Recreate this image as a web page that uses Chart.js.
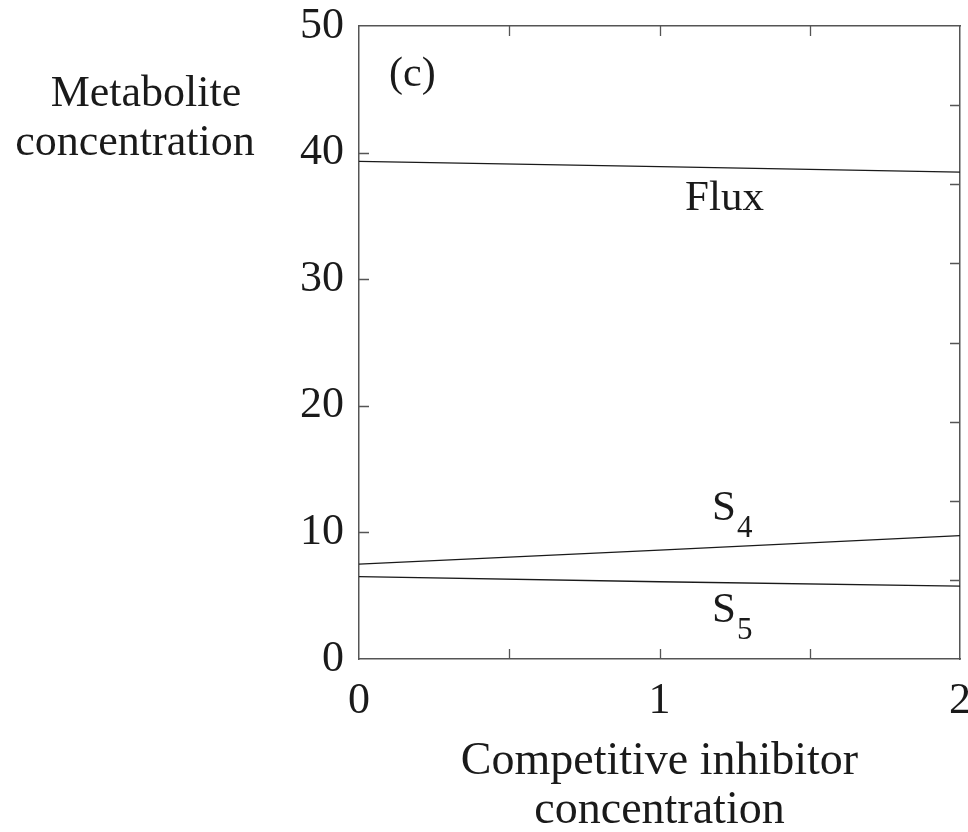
<!DOCTYPE html>
<html>
<head>
<meta charset="utf-8">
<script src="https://cdn.jsdelivr.net/npm/chart.js@4.4.1/dist/chart.umd.min.js"></script>
<style>
  html, body { margin: 0; padding: 0; background: #fff; }
</style>
</head>
<body>
<canvas id="fig" width="968" height="832"></canvas>
<script>
// inhibitor concentration and the three steady-state curves
const inhibitor = [0, 1, 2];
const flux = [39.3, 38.9, 38.45];
const s4 = [7.5, 8.6, 9.75];
const s5 = [6.5, 6.1, 5.75];
const xTickLabels = ["0", "1", "2"];
const yTickStep = 10;

const FONT = "'Liberation Serif', 'Times New Roman', serif";
const INK = "#1a1a1a";
const FRAME = "#555";

const curve = (label, data) => ({
  label,
  data: data.map((v, i) => ({ x: inhibitor[i], y: v })),
  borderColor: INK,
  borderWidth: 1.3,
  pointRadius: 0,
  fill: false,
  tension: 0,
});

// inward tick marks on all four sides, placed from the scales' own ticks
const innerTicks = {
  id: "innerTicks",
  afterDraw(chart) {
    const { ctx, chartArea: a, scales } = chart;
    const len = 10;
    ctx.save();
    ctx.strokeStyle = FRAME;
    ctx.lineWidth = 1.3;
    ctx.beginPath();
    scales.x.ticks.forEach((t) => {
      if (t.value <= scales.x.min || t.value >= scales.x.max) return;
      const px = Math.round(scales.x.getPixelForValue(t.value)) + 0.5;
      ctx.moveTo(px, a.bottom); ctx.lineTo(px, a.bottom - len);
      ctx.moveTo(px, a.top); ctx.lineTo(px, a.top + len);
    });
    scales.y.ticks.forEach((t) => {
      if (t.value <= scales.y.min || t.value >= scales.y.max) return;
      const py = Math.round(scales.y.getPixelForValue(t.value)) + 0.5;
      ctx.moveTo(a.left, py); ctx.lineTo(a.left + len, py);
    });
    scales.y2.ticks.forEach((t) => {
      if (t.value <= scales.y2.min || t.value >= scales.y2.max) return;
      const py = Math.round(scales.y2.getPixelForValue(t.value)) + 0.5;
      ctx.moveTo(a.right, py); ctx.lineTo(a.right - len, py);
    });
    ctx.stroke();
    ctx.restore();
  },
};

// panel letter, curve names and the horizontal y-axis title
const annotations = {
  id: "annotations",
  afterDraw(chart) {
    const { ctx, chartArea: a, scales: { x, y } } = chart;
    ctx.save();
    ctx.fillStyle = INK;
    ctx.textBaseline = "alphabetic";
    ctx.textAlign = "left";

    ctx.font = `42px ${FONT}`;
    ctx.fillText("(c)", x.getPixelForValue(0.1), y.getPixelForValue(45.3));

    ctx.font = `43px ${FONT}`;
    ctx.fillText("Flux", x.getPixelForValue(1.085), y.getPixelForValue(35.5));

    const sub = (name, idx, xv, yv) => {
      const px = x.getPixelForValue(xv);
      const py = y.getPixelForValue(yv);
      ctx.font = `43px ${FONT}`;
      ctx.fillText(name, px, py);
      const w = ctx.measureText(name).width;
      ctx.font = `31px ${FONT}`;
      ctx.fillText(idx, px + w + 1, py + 17);
    };
    sub("S", "4", 1.175, 11.0);
    sub("S", "5", 1.175, 2.95);

    ctx.textAlign = "center";
    ctx.font = `44px ${FONT}`;
    ctx.fillText("Metabolite", a.left - 213, 106);
    ctx.fillText("concentration", a.left - 224, 155);
    ctx.restore();
  },
};

new Chart(document.getElementById("fig"), {
  type: "line",
  data: {
    datasets: [curve("Flux", flux), curve("S4", s4), curve("S5", s5)],
  },
  options: {
    responsive: false,
    animation: false,
    devicePixelRatio: 1,
    layout: { padding: { top: 26, right: 8, left: 0, bottom: 0 } },
    plugins: {
      legend: { display: false },
      tooltip: { enabled: false },
    },
    scales: {
      x: {
        type: "linear",
        position: "bottom",
        min: 0,
        max: 2,
        grid: { display: false },
        border: { display: true, color: FRAME, width: 1.5 },
        ticks: {
          stepSize: 0.5,
          autoSkip: false,
          maxRotation: 0,
          padding: 8,
          color: INK,
          font: { family: FONT, size: 44 },
          callback: (v) => (Number.isInteger(v) ? xTickLabels[v] : ""),
        },
        title: {
          display: true,
          text: ["Competitive inhibitor", "concentration"],
          color: INK,
          font: { family: FONT, size: 46, lineHeight: 1.07 },
          padding: { top: 0, bottom: -4 },
        },
        afterFit: (s) => {
          s.height = 173;
          s.paddingLeft = 0;
          s.paddingRight = 0;
        },
      },
      x2: {
        type: "linear",
        position: "top",
        min: 0,
        max: 2,
        grid: { display: false },
        border: { display: true, color: FRAME, width: 1.5 },
        ticks: { display: false },
        afterFit: (s) => { s.height = 0; },
      },
      y: {
        type: "linear",
        position: "left",
        min: 0,
        max: 50,
        grid: { display: false },
        border: { display: true, color: FRAME, width: 1.5 },
        ticks: {
          stepSize: yTickStep,
          padding: 7,
          color: INK,
          font: { family: FONT, size: 44 },
        },
        afterFit: (s) => {
          s.width = 359;
          s.paddingTop = 0;
          s.paddingBottom = 0;
        },
      },
      y2: {
        type: "linear",
        position: "right",
        min: 0,
        max: 8,
        grid: { display: false },
        border: { display: true, color: FRAME, width: 1.5 },
        ticks: { display: false, stepSize: 1 },
        afterFit: (s) => { s.width = 0; },
      },
    },
  },
  plugins: [innerTicks, annotations],
});
</script>
</body>
</html>
